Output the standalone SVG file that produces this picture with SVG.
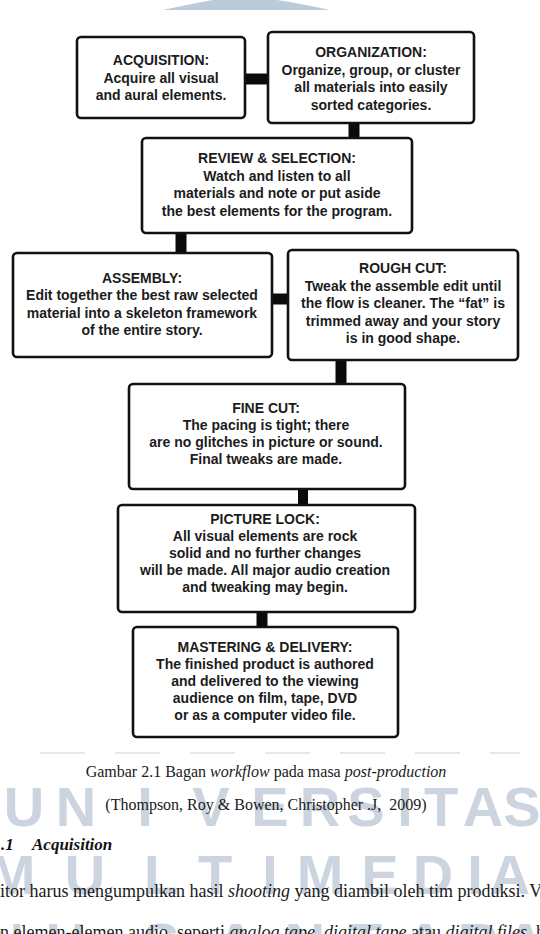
<svg xmlns="http://www.w3.org/2000/svg" width="540" height="934" viewBox="0 0 540 934">
<style>
.bg{fill:#ffffff}
.wm{font-family:"Liberation Sans",Arial,sans-serif;font-size:56px;font-weight:bold;fill:#cbd4df;text-anchor:middle}
.box{fill:#ffffff;stroke:#111111;stroke-width:2.6}
.t{font-family:"Liberation Sans",Arial,sans-serif;font-size:14px;font-weight:bold;fill:#1c1c1c;text-anchor:middle}
.conn line{stroke:#0a0a0a;stroke-width:11;stroke-linecap:butt}
.cap{font-family:"Liberation Serif","Times New Roman",serif;font-size:16px;fill:#1a1a1a}
.body{font-family:"Liberation Serif","Times New Roman",serif;font-size:18px;fill:#1a1a1a}
.it{font-style:italic}
.hd{font-family:"Liberation Serif","Times New Roman",serif;font-size:17px;font-weight:bold;font-style:italic;fill:#111111}
</style>
<rect class="bg" x="0" y="0" width="540" height="934"/>
<path d="M163,10 Q196,3 213,0 L277,0 Q298,3 330,10 Z" fill="#bccbdb"/>
<g id="watermark">
<line x1="40" y1="753" x2="520" y2="753" stroke="#e4e7eb" stroke-width="2" stroke-dasharray="45,30"/>
<text class="wm" y="826"><tspan x="24">U</tspan><tspan x="76">N</tspan><tspan x="145">I</tspan><tspan x="211">V</tspan><tspan x="270">E</tspan><tspan x="320">R</tspan><tspan x="366">S</tspan><tspan x="405">I</tspan><tspan x="441">T</tspan><tspan x="483">A</tspan><tspan x="522">S</tspan></text>
<text class="wm" y="894"><tspan x="12">M</tspan><tspan x="85">U</tspan><tspan x="161">L</tspan><tspan x="215">T</tspan><tspan x="270">I</tspan><tspan x="320">M</tspan><tspan x="380">E</tspan><tspan x="433">D</tspan><tspan x="475">I</tspan><tspan x="510">A</tspan></text>
<text class="wm" y="962"><tspan x="4">N</tspan><tspan x="66">U</tspan><tspan x="161">S</tspan><tspan x="236">A</tspan><tspan x="305">N</tspan><tspan x="365">T</tspan><tspan x="425">A</tspan><tspan x="478">R</tspan><tspan x="525">A</tspan></text>
</g>
<g id="connectors" class="conn">
<line x1="245" y1="79" x2="268" y2="79"/>
<line x1="354" y1="123" x2="354" y2="138"/>
<line x1="181" y1="233" x2="181" y2="253"/>
<line x1="272" y1="299" x2="288" y2="299"/>
<line x1="341" y1="360" x2="341" y2="384"/>
<line x1="303" y1="489" x2="303" y2="505" style="stroke-width:10"/>
<line x1="262" y1="612" x2="262" y2="627"/>
</g>
<g id="acquisition">
<rect class="box" x="77" y="37" width="168" height="81" rx="4"/>
<text class="t"><tspan x="161" y="65">ACQUISITION:</tspan><tspan x="161" y="82.5">Acquire all visual</tspan><tspan x="161" y="100">and aural elements.</tspan></text>
</g>
<g id="organization">
<rect class="box" x="268" y="32" width="206" height="91" rx="4"/>
<text class="t"><tspan x="371" y="57">ORGANIZATION:</tspan><tspan x="371" y="74.5">Organize, group, or cluster</tspan><tspan x="371" y="92">all materials into easily</tspan><tspan x="371" y="109.5">sorted categories.</tspan></text>
</g>
<g id="review">
<rect class="box" x="142" y="138" width="270" height="95" rx="4"/>
<text class="t"><tspan x="277" y="163">REVIEW &amp; SELECTION:</tspan><tspan x="277" y="180.5">Watch and listen to all</tspan><tspan x="277" y="198">materials and note or put aside</tspan><tspan x="277" y="215.5">the best elements for the program.</tspan></text>
</g>
<g id="assembly">
<rect class="box" x="13" y="253" width="259" height="104" rx="4"/>
<text class="t"><tspan x="142" y="282.5">ASSEMBLY:</tspan><tspan x="142" y="300">Edit together the best raw selected</tspan><tspan x="142" y="317.5">material into a skeleton framework</tspan><tspan x="142" y="335">of the entire story.</tspan></text>
</g>
<g id="rough-cut">
<rect class="box" x="288" y="250" width="230" height="110" rx="4"/>
<text class="t"><tspan x="403" y="273">ROUGH CUT:</tspan><tspan x="403" y="290.5">Tweak the assemble edit until</tspan><tspan x="403" y="308">the flow is cleaner. The “fat” is</tspan><tspan x="403" y="325.5">trimmed away and your story</tspan><tspan x="403" y="343">is in good shape.</tspan></text>
</g>
<g id="fine-cut">
<rect class="box" x="129" y="384" width="276" height="105" rx="4"/>
<text class="t"><tspan x="266" y="413">FINE CUT:</tspan><tspan x="266" y="430">The pacing is tight; there</tspan><tspan x="266" y="447">are no glitches in picture or sound.</tspan><tspan x="266" y="464">Final tweaks are made.</tspan></text>
</g>
<g id="picture-lock">
<rect class="box" x="118" y="505" width="297" height="107" rx="4"/>
<text class="t"><tspan x="265" y="524">PICTURE LOCK:</tspan><tspan x="265" y="541">All visual elements are rock</tspan><tspan x="265" y="558">solid and no further changes</tspan><tspan x="265" y="575">will be made. All major audio creation</tspan><tspan x="265" y="592">and tweaking may begin.</tspan></text>
</g>
<g id="mastering">
<rect class="box" x="133" y="627" width="265" height="110" rx="4"/>
<text class="t"><tspan x="265" y="652">MASTERING &amp; DELIVERY:</tspan><tspan x="265" y="669">The finished product is authored</tspan><tspan x="265" y="686">and delivered to the viewing</tspan><tspan x="265" y="703">audience on film, tape, DVD</tspan><tspan x="265" y="720">or as a computer video file.</tspan></text>
</g>
<g id="caption">
<text class="cap" x="266" y="777" text-anchor="middle">Gambar 2.1 Bagan <tspan class="it">workflow</tspan> pada masa <tspan class="it">post-production</tspan></text>
<text class="cap" x="266" y="810" text-anchor="middle" xml:space="preserve">(Thompson, Roy &amp; Bowen, Christopher .J,  2009)</text>
<text class="hd" x="1" y="850">.1</text>
<text class="hd" x="32" y="850">Acquisition</text>
<text class="body" x="0" y="897">itor harus mengumpulkan hasil <tspan class="it">shooting</tspan> yang diambil oleh tim produksi. V</text>
<text class="body" x="0" y="938">n elemen-elemen audio, seperti <tspan class="it">analog tape</tspan>, <tspan class="it">digital tape</tspan> atau <tspan class="it">digital files</tspan>, h</text>
</g>
</svg>
